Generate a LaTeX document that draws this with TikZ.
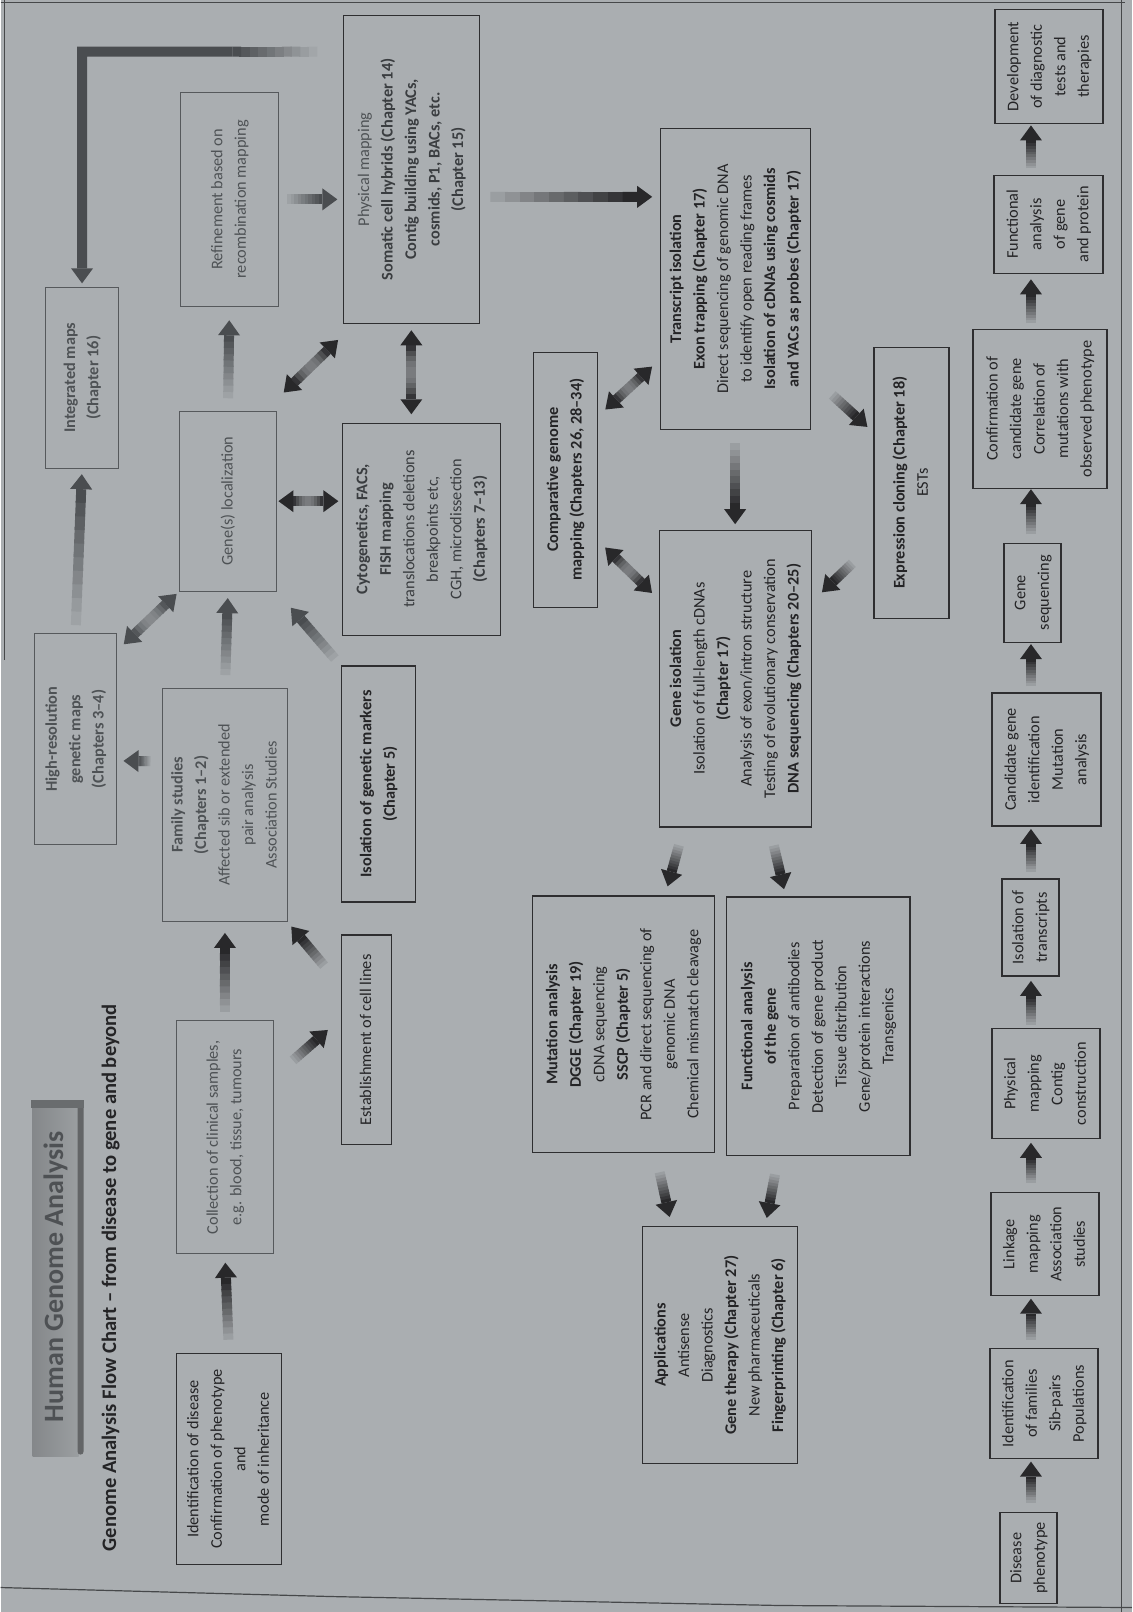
\documentclass[tikz,border=0pt]{standalone}
\usepackage{fontspec}
\setmainfont{Carlito}
\usepackage{graphicx}
\usetikzlibrary{calc}

\definecolor{bgc}{RGB}{170,174,177}
\definecolor{txtdark}{RGB}{36,36,38}
\definecolor{txtmid}{RGB}{78,82,85}
\definecolor{txtphys}{RGB}{58,61,64}
\definecolor{boxdark}{RGB}{46,46,48}
\definecolor{boxmid}{RGB}{86,89,92}
\definecolor{arrowc}{RGB}{40,40,42}
\definecolor{arrowm}{RGB}{74,77,80}
\definecolor{framec}{RGB}{70,72,74}
\definecolor{titlec}{RGB}{78,81,84}

% rotated, centred multi-line label
\newcommand\rt[1]{\rotatebox{90}{\begin{tabular}{@{}c@{}}#1\end{tabular}}}

% single arrow: shaft fades in from the tail, solid head at the end
% #1 colour, #2 from, #3 to, #4 cut at start, #5 cut at end
\newcommand\garrow[5][arrowc]{%
  \path ($#2!#4!#3$) coordinate (ga-s) ($#3!#5!#2$) coordinate (ga-e);
  \path ($(ga-e)!15pt!(ga-s)$) coordinate (ga-m);
  \foreach \k in {0,...,9}{%
    \pgfmathsetmacro\ta{\k/10}%
    \pgfmathsetmacro\tb{min(1,(\k+1)/10+0.02)}%
    \pgfmathtruncatemacro\sh{12+88*\k/9}%
    \draw[shaft,draw=#1!\sh!bgc] ($(ga-s)!\ta!(ga-m)$) -- ($(ga-s)!\tb!(ga-m)$);
  }%
  \fill[#1] (ga-e) -- ($(ga-m)!11pt!90:(ga-e)$) -- ($(ga-m)!11pt!-90:(ga-e)$) -- cycle;
}

% double arrow: dark heads at both ends, lighter in the middle
\newcommand\darrow[5][arrowc]{%
  \path ($#2!#4!#3$) coordinate (da-s) ($#3!#5!#2$) coordinate (da-e);
  \path ($(da-e)!15pt!(da-s)$) coordinate (da-m) ($(da-s)!15pt!(da-e)$) coordinate (da-n);
  \foreach \k in {0,...,9}{%
    \pgfmathsetmacro\ta{\k/10}%
    \pgfmathsetmacro\tb{min(1,(\k+1)/10+0.02)}%
    \pgfmathtruncatemacro\sh{100-62*sin(180*(\k+0.5)/10)}%
    \draw[shaft,draw=#1!\sh!bgc] ($(da-n)!\ta!(da-m)$) -- ($(da-n)!\tb!(da-m)$);
  }%
  \fill[#1] (da-e) -- ($(da-m)!11pt!90:(da-e)$) -- ($(da-m)!11pt!-90:(da-e)$) -- cycle;
  \fill[#1] (da-s) -- ($(da-n)!11pt!90:(da-s)$) -- ($(da-n)!11pt!-90:(da-s)$) -- cycle;
}

\begin{document}
\begin{tikzpicture}[x=1pt,y=-1pt,
  every node/.style={font=\fontsize{16.3}{23.5}\selectfont, inner sep=0pt, outer sep=0pt},
  dbox/.style={draw=boxdark, line width=1.2pt, text=txtdark},
  fbox/.style={draw=boxmid, line width=1pt, text=txtmid},
  sz/.style 2 args={minimum width=#1pt, minimum height=#2pt},
  shaft/.style={line width=10pt},
]
% page
\fill[bgc] (0,0) rectangle (1132,1612);
\draw[framec, line width=1pt] (4,0) -- (4,660);
\draw[framec, line width=1pt] (0,2) -- (1125,2);
\draw[framec, line width=1pt] (1122,0) -- (1122,1612);
\draw[framec, line width=1.2pt] (0,1588) -- (330,1597) -- (780,1606) -- (1132,1608);

% title band
\shade[left color=bgc!78!black, right color=bgc!91!black] (32,1104) rectangle (78,1457);
\fill[bgc!58!black] (77,1102) rectangle (83,1452) arc[start angle=0,end angle=-180,radius=3pt];
\fill[bgc!62!black] (30,1100) rectangle (83,1108);
\node[font=\fontsize{28}{30}\selectfont\bfseries, text=titlec] (title) at (55,1277) {\rotatebox{90}{Human Genome Analysis}};
\node[font=\fontsize{20.6}{22}\selectfont\bfseries, text=txtdark] (subtitle) at (110,1278) {\rotatebox{90}{Genome Analysis Flow Chart – from disease to gene and beyond}};

% ---- mapping part (upper left) ----
\node[fbox, sz={73}{181}] (integ) at (81.5,377.5) {\rt{\textbf{Integrated maps}\\\textbf{(Chapter 16)}}};
\node[fbox, sz={82}{212}] (hres) at (75,739) {\rt{\textbf{High-resolution}\\\textbf{genetic maps}\\\textbf{(Chapters 3–4)}}};
\node[fbox, sz={98}{214}] (ref) at (229,199) {\rt{Refinement based on\\recombination mapping}};
\node[fbox, sz={97}{180}] (genloc) at (227.5,501) {\rt{Gene(s) localization}};
\node[fbox, sz={125}{234}] (fam) at (224.5,805) {\rt{\textbf{Family studies}\\\textbf{(Chapters 1–2)}\\Affected sib or extended\\pair analysis\\Association Studies}};
\node[fbox, sz={97}{233}] (coll) at (224.5,1137.5) {\rt{Collection of clinical samples,\\e.g. blood, tissue, tumours}};
\node[dbox, sz={105}{211}] (ident) at (228.5,1459.5) {\rt{Identification of disease\\Confirmation of phenotype\\and\\mode of inheritance}};
\node[dbox, sz={50}{210}] (est) at (366,1040) {\rt{Establishment of cell lines}};
\node[dbox, sz={74}{236}] (isogm) at (378,784) {\rt{\textbf{Isolation of genetic markers}\\\textbf{(Chapter 5)}}};
\node[dbox, sz={158}{212}, text=txtphys] (cyto) at (421,529) {\rt{\textbf{Cytogenetics, FACS,}\\\textbf{FISH mapping}\\translocations deletions\\breakpoints etc,\\CGH, microdissection\\\textbf{(Chapters 7–13)}}};
\node[dbox, sz={136}{308}, text=txtphys] (phys) at (411,169) {\rt{\textcolor{txtmid}{Physical mapping}\\\textbf{Somatic cell hybrids (Chapter 14)}\\\textbf{Contig building using YACs,}\\\textbf{cosmids, P1, BACs, etc.}\\\textbf{(Chapter 15)}}};

% ---- gene part (middle) ----
\node[dbox, sz={64}{255}] (comp) at (565,479.5) {\rt{\textbf{Comparative genome}\\\textbf{mapping (Chapters 26, 28–34)}}};
\node[dbox, sz={150}{301}] (trans) at (735,278.5) {\rt{\textbf{Transcript isolation}\\\textbf{Exon trapping (Chapter 17)}\\Direct sequencing of genomic DNA\\to identify open reading frames\\\textbf{Isolation of cDNAs using cosmids}\\\textbf{and YACs as probes (Chapter 17)}}};
\node[dbox, sz={152}{297}] (giso) at (735,678.5) {\rt{\textbf{Gene isolation}\\Isolation of full-length cDNAs\\\textbf{(Chapter 17)}\\Analysis of exon/intron structure\\Testing of evolutionary conservation\\\textbf{DNA sequencing (Chapters 20–25)}}};
\node[dbox, sz={75}{271}] (expr) at (911.5,482.5) {\rt{\textbf{Expression cloning (Chapter 18)}\\ESTs}};
\node[dbox, sz={182}{257}] (mut) at (623,1024.5) {\rt{\textbf{Mutation analysis}\\\textbf{DGGE (Chapter 19)}\\cDNA sequencing\\\textbf{SSCP (Chapter 5)}\\PCR and direct sequencing of\\genomic DNA\\Chemical mismatch cleavage}};
\node[dbox, sz={184}{259}] (func) at (818,1026.5) {\rt{\textbf{Functional analysis}\\\textbf{of the gene}\\Preparation of antibodies\\Detection of gene product\\Tissue distribution\\Gene/protein interactions\\Transgenics}};
\node[dbox, sz={155}{237}] (app) at (719.5,1345.5) {\rt{\textbf{Applications}\\Antisense\\Diagnostics\\\textbf{Gene therapy (Chapter 27)}\\New pharmaceuticals\\\textbf{Fingerprinting (Chapter 6)}}};

% ---- summary row (right) ----
\node[dbox, sz={57}{91}] (dis) at (1028.5,1558.5) {\rt{Disease\\phenotype}};
\node[dbox, sz={108}{110}] (fam2) at (1044,1404) {\rt{Identification\\of families\\Sib-pairs\\Populations}};
\node[dbox, sz={108}{103}] (link) at (1045,1244.5) {\rt{Linkage\\mapping\\Association\\studies}};
\node[dbox, sz={108}{110}] (phys2) at (1046,1084) {\rt{Physical\\mapping\\Contig\\construction}};
\node[dbox, sz={57}{97}] (isotr) at (1030.5,927.5) {\rt{Isolation of\\transcripts}};
\node[dbox, sz={109}{133}] (cand) at (1046.5,759.5) {\rt{Candidate gene\\identification\\Mutation\\analysis}};
\node[dbox, sz={57}{99}] (geneseq) at (1032.5,592.5) {\rt{Gene\\sequencing}};
\node[dbox, sz={134}{159}] (confirm) at (1040,408.5) {\rt{Confirmation of\\candidate gene\\Correlation of\\mutations with\\observed phenotype}};
\node[dbox, sz={109}{98}] (funcprot) at (1048.5,224) {\rt{Functional\\analysis\\of gene\\and protein}};
\node[dbox, sz={108}{114}] (dev) at (1049,66) {\rt{Development\\of diagnostic\\tests and\\therapies}};

% ---- connectors: mapping part ----
\garrow{(ident.north)}{(coll.south)}{14pt}{9pt}
\garrow{(coll.north)}{(fam.south)}{9pt}{11pt}
\garrow{(coll.51)}{(est.139)}{26pt}{18pt}
\garrow{(est.115)}{(fam.south east)}{27pt}{6pt}
\garrow[arrowm]{(fam.145)}{(hres.332)}{12pt}{7pt}
\garrow[arrowm]{(fam.north)}{(genloc.south)}{13pt}{7pt}
\darrow[arrowm]{(hres.65)}{(genloc.south west)}{10pt}{4pt}
\garrow[arrowm]{(hres.north)}{(integ.south)}{8pt}{6pt}
\garrow[arrowm]{(isogm.north west)}{(genloc.south east)}{10pt}{22pt}
\garrow[arrowm]{(genloc.north)}{(ref.south)}{13pt}{14pt}
\garrow[arrowm]{(ref.east)}{(ref.east -| phys.west)}{9pt}{6pt}
\darrow{(genloc.east)}{(genloc.east -| cyto.west)}{2pt}{4pt}
\darrow{(genloc.68)}{(phys.250)}{27pt}{24pt}
\darrow{(phys.south)}{(phys.south |- cyto.north)}{7pt}{9pt}

% long return path from physical mapping to the integrated maps
\path (integ.north |- phys.120) coordinate (lcorner);
\path ($(phys.120)!26pt!(lcorner)$) coordinate (lstart);
\path ($(lstart)!0.36!(lcorner)$) coordinate (lfade);
\path ($(integ.north)!4pt!(lcorner)$) coordinate (lend);
\path ($(lend)!15pt!(lcorner)$) coordinate (lbase);
\foreach \k in {0,...,9}{%
  \pgfmathsetmacro\ta{\k/10}%
  \pgfmathsetmacro\tb{min(1,(\k+1)/10+0.02)}%
  \pgfmathtruncatemacro\sh{8+92*\k/9}%
  \draw[shaft,draw=arrowm!\sh!bgc] ($(lstart)!\ta!(lfade)$) -- ($(lstart)!\tb!(lfade)$);
}
\draw[shaft, draw=arrowm] (lfade) -- (lcorner) -- (lbase);
\fill[arrowm] (lend) -- ($(lbase)!11pt!90:(lend)$) -- ($(lbase)!11pt!-90:(lend)$) -- cycle;

% ---- connectors: gene part ----
\garrow{(phys.-22)}{(phys.-22 -| trans.west)}{11pt}{8pt}
\darrow{(comp.63)}{(trans.227)}{11pt}{11pt}
\darrow{(comp.298)}{(giso.134)}{11pt}{10pt}
\garrow{(trans.south)}{(giso.north)}{14pt}{6pt}
\garrow{(trans.308)}{(expr.127)}{30pt}{9pt}
\garrow{(expr.238)}{(giso.45)}{30pt}{15pt}
\garrow{(giso.251)}{(mut.72)}{19pt}{10pt}
\garrow{(giso.283)}{(func.104)}{19pt}{8pt}
\garrow{(mut.284)}{(app.112)}{20pt}{10pt}
\garrow{(func.253)}{(app.69)}{19pt}{9pt}

% ---- connectors: summary row ----
\coordinate (bcol) at (1031,0);
\garrow{(bcol |- dis.north)}{(bcol |- fam2.south)}{10pt}{3pt}
\garrow{(bcol |- fam2.north)}{(bcol |- link.south)}{9pt}{3pt}
\garrow{(bcol |- link.north)}{(bcol |- phys2.south)}{10pt}{4pt}
\garrow{(bcol |- phys2.north)}{(bcol |- isotr.south)}{4pt}{5pt}
\garrow{(bcol |- isotr.north)}{(bcol |- cand.south)}{7pt}{3pt}
\garrow{(bcol |- cand.north)}{(bcol |- geneseq.south)}{7pt}{2pt}
\garrow{(bcol |- geneseq.north)}{(bcol |- confirm.south)}{9pt}{1pt}
\garrow{(bcol |- confirm.north)}{(bcol |- funcprot.south)}{6pt}{6pt}
\garrow{(bcol |- funcprot.north)}{(bcol |- dev.south)}{7pt}{2pt}
\end{tikzpicture}
\end{document}
